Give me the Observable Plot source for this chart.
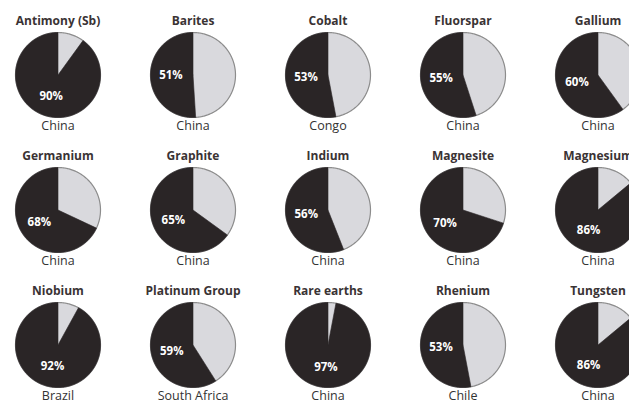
<!DOCTYPE html>
<html>
<head>
<meta charset="utf-8">
<script src="https://cdn.jsdelivr.net/npm/d3@7"></script>
<script src="https://cdn.jsdelivr.net/npm/@observablehq/plot@0.6"></script>
<style>
  html, body { margin: 0; padding: 0; background: #fff; overflow: hidden; }
  #chart svg { display: block; margin-left: -10px; max-width: none !important; }
</style>
</head>
<body>
<div id="chart"></div>
<script>
const minerals = ["Antimony (Sb)", "Barites", "Cobalt", "Fluorspar", "Gallium",
                  "Germanium", "Graphite", "Indium", "Magnesite", "Magnesium",
                  "Niobium", "Platinum Group", "Rare earths", "Rhenium", "Tungsten"];
const shares = [90, 51, 53, 55, 60, 68, 65, 56, 70, 86, 92, 59, 97, 53, 86];
const countries = ["China", "China", "Congo", "China", "China",
                   "China", "China", "China", "China", "China",
                   "Brazil", "South Africa", "China", "Chile", "China"];

const ncol = 5;
const rows = minerals.map((m, i) => ({
  mineral: m, share: shares[i], country: countries[i],
  col: i % ncol, row: Math.floor(i / ncol)
}));

// pie geometry derived from the shares (angle measured clockwise from 12 o'clock)
function arc(d, a0, a1, withCenter) {
  const n = Math.max(2, Math.ceil((a1 - a0) / (Math.PI / 180)));
  const pts = [];
  if (withCenter) pts.push({...d, x: 0, y: 0});
  for (let k = 0; k <= n; k++) {
    const a = a0 + (a1 - a0) * k / n;
    pts.push({...d, x: Math.sin(a), y: Math.cos(a)});
  }
  if (withCenter) pts.push({...d, x: 0, y: 0});
  return pts;
}
const disks = rows.flatMap(d => arc(d, 0, 2 * Math.PI, false));
const darks = rows.flatMap(d => arc(d, (1 - d.share / 100) * 2 * Math.PI, 2 * Math.PI, true));
const labelR = 0.52;
const midAngle = d => (1 - d.share / 200) * 2 * Math.PI;

const width = 675, height = 412, marginTop = 7;
const unit = 42.5;
const hx = (width / ncol) / 2 / unit;
const hy = ((height - marginTop) / 3) / 2 / unit;

const font = "'Open Sans', 'Noto Sans', sans-serif";

const chart = Plot.plot({
  width, height,
  marginTop, marginBottom: 0, marginLeft: 0, marginRight: 0,
  style: {fontFamily: font, background: "#fff"},
  fx: {axis: null, padding: 0, domain: d3.range(ncol)},
  fy: {axis: null, padding: 0, domain: d3.range(3)},
  x: {axis: null, domain: [-hx, hx]},
  y: {axis: null, domain: [-hy, hy]},
  marks: [
    Plot.line(disks, {x: "x", y: "y", z: "mineral", fx: "col", fy: "row",
      fill: "#d9d9dd", stroke: "#8c8c8c", strokeWidth: 1.2}),
    Plot.line(darks, {x: "x", y: "y", z: "mineral", fx: "col", fy: "row",
      fill: "#2a2526", stroke: "#2a2526", strokeWidth: 0.6}),
    Plot.text(rows, {fx: "col", fy: "row", x: () => 0, y: () => 1.26,
      text: "mineral", fontWeight: "bold", fontSize: 12, fill: "#3a3334", fontFamily: font}),
    Plot.text(rows, {fx: "col", fy: "row", x: () => 0, y: () => -1.2,
      text: "country", fontSize: 12.5, fill: "#333", fontFamily: font}),
    Plot.text(rows, {fx: "col", fy: "row",
      x: d => labelR * Math.sin(midAngle(d)), y: d => labelR * Math.cos(midAngle(d)),
      text: d => d.share + "%", fontWeight: "bold", fontSize: 11.5, fill: "#fff", fontFamily: font})
  ]
});
chart.style.maxWidth = "none";
document.getElementById("chart").append(chart);
</script>
</body>
</html>
